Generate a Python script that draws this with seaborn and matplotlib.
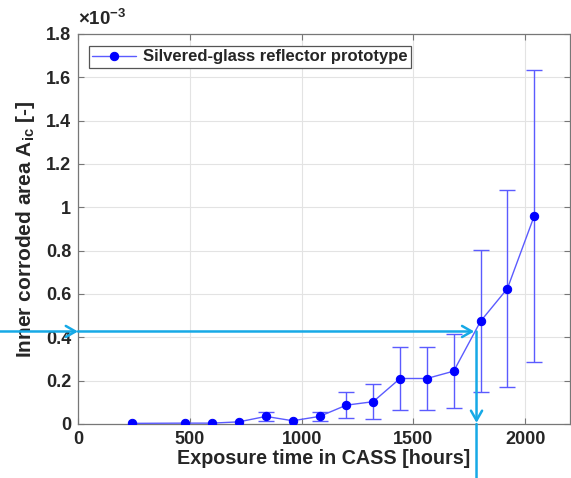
import matplotlib
matplotlib.use("Agg")
import matplotlib.pyplot as plt
import seaborn as sns
import pandas as pd
from matplotlib.ticker import FuncFormatter, MultipleLocator

# ---- data (area values in units of 1e-3) ----
hours = [240, 480, 600, 720, 840, 960, 1080, 1200, 1320, 1440, 1560, 1680, 1800, 1920, 2040]
area_e3 = [0.003, 0.004, 0.004, 0.010, 0.035, 0.015, 0.035, 0.087, 0.103, 0.210, 0.210, 0.244, 0.474, 0.625, 0.960]
err_e3 = [0.0, 0.0, 0.0, 0.0, 0.020, 0.0, 0.020, 0.060, 0.080, 0.144, 0.144, 0.170, 0.328, 0.455, 0.672]
series_name = "Silvered-glass reflector prototype"
marker_hours = 1782
marker_area_e3 = 0.427

df = pd.DataFrame({"hours": hours, "area": area_e3, "err": err_e3})
df_err = df[df["err"] > 0]

sns.set_style("ticks")
plt.rcParams["font.family"] = ["Liberation Sans", "DejaVu Sans"]
plt.rcParams["font.weight"] = "bold"
plt.rcParams["mathtext.fontset"] = "custom"
plt.rcParams["mathtext.rm"] = "Liberation Sans:bold"
plt.rcParams["mathtext.bf"] = "Liberation Sans:bold"
plt.rcParams["mathtext.it"] = "Liberation Sans:bold"

fig = plt.figure(figsize=(5.71, 4.78), dpi=100)
ax = fig.add_axes([78 / 571, 1 - 424 / 478, (570 - 78) / 571, (424 - 34) / 478])

line_c = "#5b5bff"
mark_c = "#0000ff"
cyan = "#16a9e6"

ax.errorbar(df_err["hours"], df_err["area"], yerr=df_err["err"], fmt="none", ecolor=line_c,
            elinewidth=1.0, capsize=5.5, capthick=1.0, zorder=2)
sns.lineplot(data=df, x="hours", y="area", ax=ax, color=line_c, linewidth=1.0,
             marker="o", markersize=6, markerfacecolor=mark_c, markeredgecolor=mark_c,
             label=series_name, zorder=3)

ax.set_xlim(0, 2200)
ax.set_ylim(0, 1.8)
ax.xaxis.set_major_locator(MultipleLocator(500))
ax.yaxis.set_major_locator(MultipleLocator(0.2))
ax.yaxis.set_major_formatter(FuncFormatter(lambda v, p: "%g" % round(v, 2)))
ax.grid(True, color="#e3e3e3", linewidth=0.8)
ax.set_axisbelow(True)
for s in ax.spines.values():
    s.set_color("#777777")
    s.set_linewidth(0.9)
ax.tick_params(direction="in", top=True, right=True, length=4, color="#777777",
               labelsize=13, pad=5)
for lab in ax.get_xticklabels() + ax.get_yticklabels():
    lab.set_fontweight("bold")

ax.set_xlabel("Exposure time in CASS [hours]", fontsize=14.2, fontweight="bold", labelpad=1)
ax.set_ylabel(r"Inner corroded area A$_{\mathrm{ic}}$ [-]", fontsize=15, fontweight="bold", labelpad=6)
ax.text(0.0, 1.012, r"$\times$10$^{-3}$", transform=ax.transAxes, fontsize=13.5,
        fontweight="bold", ha="left", va="bottom")

leg = ax.legend(loc="upper left", bbox_to_anchor=(11 / 492, 1 - 12 / 390), borderaxespad=0,
                fancybox=False, framealpha=1, edgecolor="#555555",
                prop={"weight": "bold", "size": 12},
                handlelength=2.6, borderpad=0.2, handletextpad=0.45)
leg.get_frame().set_linewidth(0.9)

# ---- cyan reading arrows ----
aprops = dict(arrowstyle="->,head_length=0.7,head_width=0.4", color=cyan, lw=1.8,
              shrinkA=0, shrinkB=0)
ax.annotate("", xy=(0, marker_area_e3), xycoords=("axes fraction", "data"),
            xytext=(0, marker_area_e3), textcoords=("figure fraction", "data"),
            arrowprops=aprops, annotation_clip=False)
ax.annotate("", xy=(marker_hours - 10, marker_area_e3), xycoords="data",
            xytext=(0, marker_area_e3), textcoords="data",
            arrowprops=aprops, annotation_clip=False)
ax.annotate("", xy=(marker_hours, 0.005), xycoords="data",
            xytext=(marker_hours, marker_area_e3), textcoords="data",
            arrowprops=aprops, annotation_clip=False)
ax.annotate("", xy=(marker_hours, 0), xycoords="data",
            xytext=(marker_hours, 0), textcoords=("data", "figure fraction"),
            arrowprops=dict(arrowstyle="-", color=cyan, lw=1.8, shrinkA=0, shrinkB=0),
            annotation_clip=False)

fig.savefig("out.png", dpi=100)
